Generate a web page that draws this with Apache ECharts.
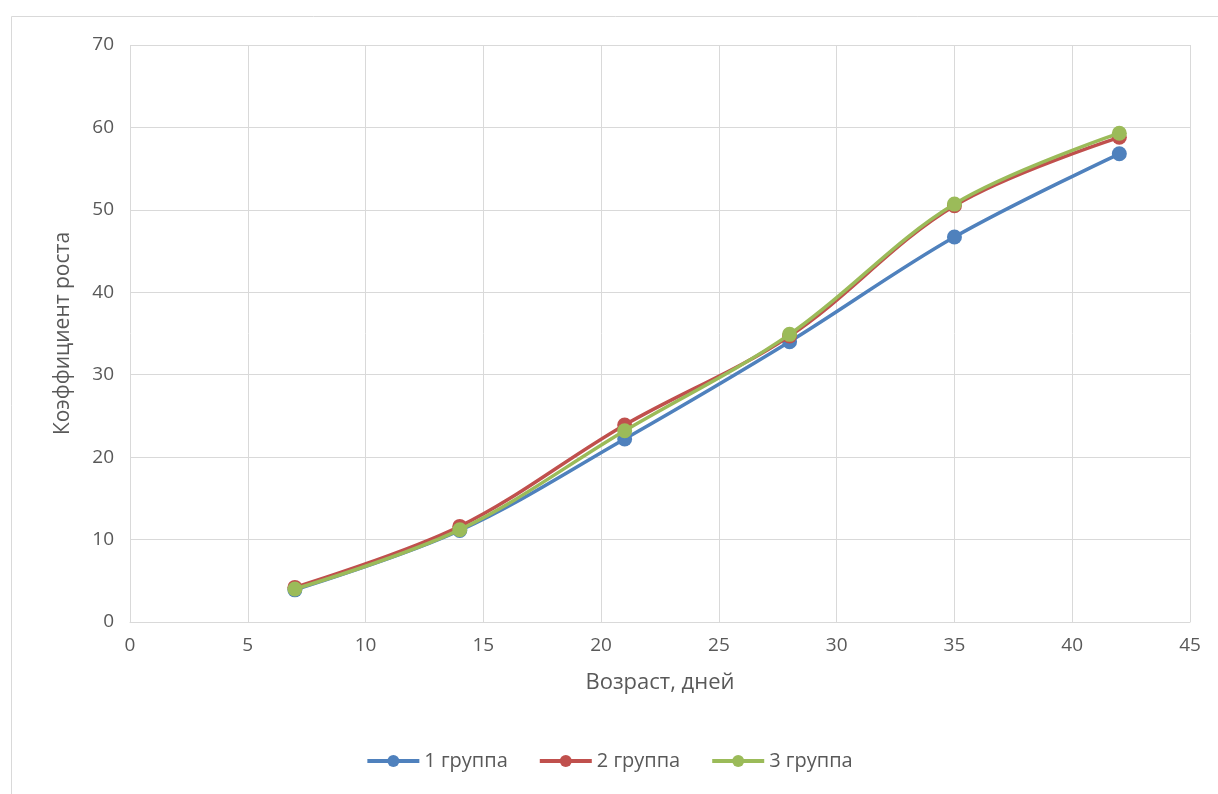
<!DOCTYPE html>
<html><head><meta charset="utf-8">
<script src="https://cdn.jsdelivr.net/npm/echarts@6/dist/echarts.min.js"></script>
<style>html,body{margin:0;padding:0;background:#fff}#c{width:1218px;height:794px}</style>
</head><body><div id="c"></div>
<script>
const days = [7, 14, 21, 28, 35, 42];
const group1 = [3.9, 11.1, 22.2, 34.0, 46.7, 56.8];
const group2 = [4.2, 11.6, 23.9, 34.7, 50.5, 58.8];
const group3 = [4.0, 11.2, 23.2, 34.9, 50.7, 59.3];
const seriesNames = ['1 группа', '2 группа', '3 группа'];
const xTitle = 'Возраст, дней';
const yTitle = 'Коэффициент роста';

const colors = ['#4F81BD', '#C0504D', '#9BBB59'];
const font = '"Open Sans", "Noto Sans", sans-serif';
const chart = echarts.init(document.getElementById('c'), null, {renderer: 'canvas'});
const mk = (name, vals, i) => ({
  name, type: 'line', smooth: 0.35,
  data: days.map((d, k) => [d, vals[k]]),
  symbol: 'circle', symbolSize: 15,
  lineStyle: {width: 3.5, color: colors[i]},
  itemStyle: {color: colors[i]},
  z: 2 + i
});
chart.setOption({
  animation: false,
  color: colors,
  graphic: [{type: 'rect', left: 9, top: 14, shape: {width: 1230, height: 800},
    style: {fill: 'none', stroke: '#d9d9d9', lineWidth: 1}, silent: true}],
  grid: {left: 130, right: 28, top: 45, bottom: 172},
  legend: {
    bottom: 18, left: 'center', itemWidth: 52, itemHeight: 15, itemGap: 30,
    lineStyle: {width: 4},
    textStyle: {fontSize: 20, color: '#595959', fontFamily: font},
    data: seriesNames
  },
  xAxis: {
    type: 'value', min: 0, max: 45, interval: 5,
    name: xTitle, nameLocation: 'middle', nameGap: 50,
    nameTextStyle: {fontSize: 22, color: '#595959', fontFamily: font},
    axisLine: {show: true, lineStyle: {color: '#d9d9d9', width: 1}},
    axisTick: {show: false},
    axisLabel: {fontSize: 19, color: '#595959', fontFamily: font, margin: 14},
    splitLine: {show: true, lineStyle: {color: '#d9d9d9', width: 1}}
  },
  yAxis: {
    type: 'value', min: 0, max: 70, interval: 10,
    name: yTitle, nameLocation: 'middle', nameGap: 56, nameRotate: 90,
    nameTextStyle: {fontSize: 21, color: '#595959', fontFamily: font},
    axisLine: {show: false}, axisTick: {show: false},
    axisLabel: {fontSize: 19, color: '#595959', fontFamily: font, margin: 16},
    splitLine: {show: true, lineStyle: {color: '#d9d9d9', width: 1}}
  },
  series: [mk(seriesNames[0], group1, 0), mk(seriesNames[1], group2, 1), mk(seriesNames[2], group3, 2)]
});
</script></body></html>
